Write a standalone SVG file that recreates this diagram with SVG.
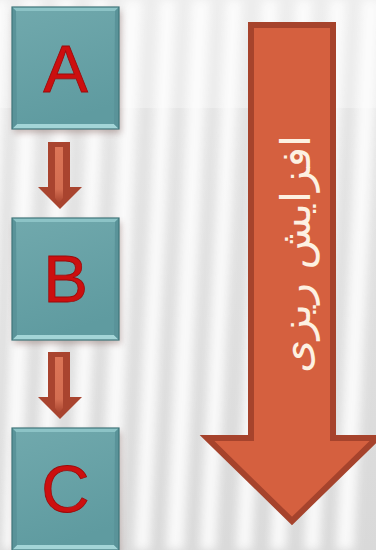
<svg xmlns="http://www.w3.org/2000/svg" xmlns:xlink="http://www.w3.org/1999/xlink" width="376" height="550" viewBox="0 0 376 550">
  <style>
    .face { fill: url(#boxFace); }
    .bevTop { fill: #8cc3c6; }
    .bevBot { fill: #a3d5d7; }
    .bevSide { fill: #5a9399; }
    .outline { fill: none; stroke: #3f757a; stroke-width: 1.2; }
    .letter { font-family: "Liberation Sans", Arial, sans-serif; font-size: 67px; fill: #cc0f0f; stroke: #9a0a0a; stroke-width: 0.8; text-anchor: middle; }
    .small-arrow { fill: #a9442f; }
    .small-arrow-core { fill: url(#coreGrad); }
    .big-arrow { fill: #d5603f; stroke: #a6432c; stroke-width: 6; stroke-linejoin: miter; stroke-miterlimit: 10; }
    .arrow-label { font-family: "DejaVu Sans", "Noto Sans", sans-serif; font-size: 41px; fill: #fdf1e2; text-anchor: middle; }
  </style>
  <defs>
    <linearGradient id="bg" x1="0" y1="0" x2="0" y2="1">
      <stop offset="0" stop-color="#e6e6e6"/>
      <stop offset="1" stop-color="#d9d9d9"/>
    </linearGradient>
    <linearGradient id="boxFace" x1="0" y1="0" x2="0.3" y2="1">
      <stop offset="0" stop-color="#71a9ad"/>
      <stop offset="1" stop-color="#5f9ba0"/>
    </linearGradient>
    <linearGradient id="coreGrad" x1="0" y1="0" x2="0" y2="1">
      <stop offset="0" stop-color="#e27b5c" stop-opacity="0.9"/>
      <stop offset="0.75" stop-color="#e27b5c" stop-opacity="0.75"/>
      <stop offset="1" stop-color="#e27b5c" stop-opacity="0"/>
    </linearGradient>
    <filter id="soft" x="-20%" y="-5%" width="140%" height="110%">
      <feGaussianBlur stdDeviation="5"/>
    </filter>
    <filter id="shadow" x="-20%" y="-20%" width="140%" height="140%">
      <feGaussianBlur stdDeviation="3"/>
    </filter>
    <!-- bevelled teal tile -->
    <g id="tile">
      <rect x="14" y="11" width="107" height="122" fill="#8a6a66" opacity="0.45" filter="url(#shadow)"/>
      <rect class="face" x="12" y="7" width="107" height="122"/>
      <polygon class="bevTop" points="12,7 119,7 115,11 16,11"/>
      <polygon class="bevBot" points="12,129 119,129 114,124 17,124"/>
      <polygon class="bevSide" points="12,7 16,11 17,124 12,129"/>
      <polygon class="bevSide" points="119,7 115,11 114,124 119,129"/>
      <rect class="outline" x="12" y="7" width="107" height="122"/>
    </g>
    <!-- small down arrow -->
    <g id="smallArrow">
      <path class="small-arrow" d="M48,142 H70 V187 H82 L60,209 L38,187 H48 Z"/>
      <path class="small-arrow-core" d="M55,147 H63 V198 L59,203 L55,198 Z"/>
    </g>
  </defs>

  <!-- backdrop: grey wall with soft light streaks -->
  <rect width="376" height="550" fill="url(#bg)"/>
  <g filter="url(#soft)" fill="#fdfdfd" opacity="0.9">
    <polygon points="-10,0 8,0 -12,550 -30,550"/>
    <polygon points="22,0 40,0 20,550 2,550"/>
    <polygon points="58,0 74,0 50,550 34,550"/>
    <polygon points="92,0 108,0 84,550 68,550"/>
    <polygon points="124,0 142,0 118,550 100,550"/>
    <polygon points="160,0 176,0 150,550 134,550"/>
    <polygon points="192,0 210,0 184,550 166,550"/>
    <polygon points="226,0 242,0 216,550 200,550"/>
    <polygon points="262,0 278,0 252,550 236,550"/>
    <polygon points="296,0 312,0 286,550 270,550"/>
    <polygon points="330,0 346,0 320,550 304,550"/>
    <polygon points="362,0 380,0 354,550 336,550"/>
  </g>
  <rect x="0" y="0" width="376" height="108" fill="#ffffff" opacity="0.3"/>

  <!-- connectors -->
  <g id="connectors">
    <use xlink:href="#smallArrow"/>
    <use xlink:href="#smallArrow" transform="translate(0,210)"/>
  </g>

  <!-- nodes -->
  <g id="node-a">
    <use xlink:href="#tile"/>
    <text class="letter" x="65.5" y="92">A</text>
  </g>
  <g id="node-b">
    <use xlink:href="#tile" transform="translate(0,211)"/>
    <text class="letter" x="65.5" y="302">B</text>
  </g>
  <g id="node-c">
    <use xlink:href="#tile" transform="translate(0,421)"/>
    <text class="letter" x="65.5" y="512">C</text>
  </g>

  <!-- large arrow with vertical label -->
  <g id="node-trend">
    <path class="big-arrow" d="M251,25 H333 V438 H377 L292,521 L207,438 H251 Z"/>
    <text class="arrow-label" transform="translate(310,254) rotate(-90)" x="0" y="0" textLength="238" lengthAdjust="spacingAndGlyphs">افزایش ریزی</text>
  </g>
</svg>
